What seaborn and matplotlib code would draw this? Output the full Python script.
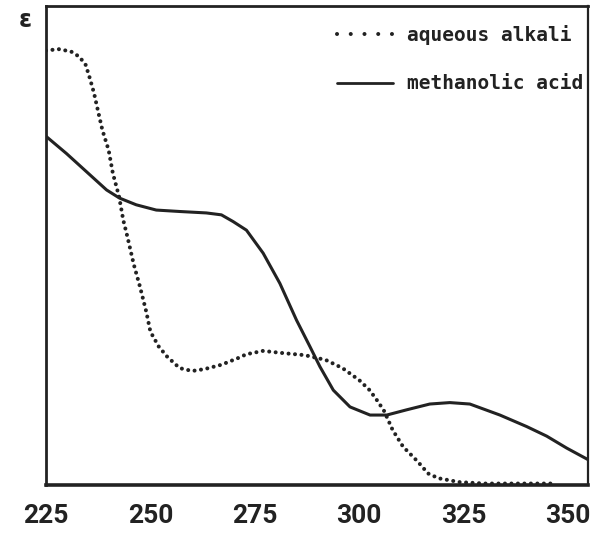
import matplotlib
matplotlib.use("Agg")
import matplotlib.pyplot as plt
from matplotlib.lines import Line2D
import seaborn as sns
import pandas as pd

# ---- data ----
wl_alkali = [225, 228, 231, 233, 234.5, 235.5, 236.5, 237.5, 238.5, 240, 241, 242.5,
             243.5, 244.5, 246, 247.5, 249, 250, 252, 254, 257, 260, 263, 267, 271,
             273, 277, 281, 287, 292, 296, 300, 302.5, 304.5, 306, 308, 310.5, 314,
             316.5, 319, 324, 330, 338, 346]
abs_alkali = [0.907, 0.910, 0.905, 0.894, 0.877, 0.849, 0.818, 0.779, 0.741, 0.699,
              0.651, 0.602, 0.553, 0.518, 0.461, 0.414, 0.362, 0.320, 0.289, 0.268,
              0.244, 0.238, 0.242, 0.251, 0.265, 0.273, 0.280, 0.276, 0.271, 0.261,
              0.244, 0.219, 0.198, 0.174, 0.154, 0.115, 0.080, 0.049, 0.024, 0.014,
              0.006, 0.003, 0.003, 0.003]

wl_acid = [225, 229.9, 234.7, 239.5, 242.6, 246.6, 251.4, 257, 263.4, 267, 269.8, 273,
           277, 281, 285, 288.2, 290.6, 293.8, 297.8, 302.6, 306.6, 311.4, 316.9,
           321.7, 326.5, 333.7, 340.1, 344.9, 349.7, 355]
abs_acid = [0.728, 0.692, 0.654, 0.616, 0.599, 0.585, 0.574, 0.571, 0.568, 0.564,
            0.550, 0.532, 0.484, 0.421, 0.344, 0.289, 0.247, 0.198, 0.163, 0.146,
            0.146, 0.157, 0.169, 0.172, 0.169, 0.146, 0.122, 0.102, 0.077, 0.052]

series_labels = ["aqueous alkali", "methanolic acid"]
x_ticks = [225, 250, 275, 300, 325, 350]
x_ticklabels = ["225", "250", "275", "300", "325", "350"]

INK = "#222222"
sns.set_style("white")
plt.rcParams['font.family'] = ['DejaVu Sans']

fig = plt.figure(figsize=(5.93, 5.33), dpi=100)
ax = fig.add_axes([0.0776, 0.0901, 0.9140, 0.8986])

df_alk = pd.DataFrame({"wl": wl_alkali, "A": abs_alkali})
df_acid = pd.DataFrame({"wl": wl_acid, "A": abs_acid})

sns.lineplot(data=df_alk, x="wl", y="A", ax=ax, color=INK, linewidth=2.9,
             linestyle=(0, (0.01, 1.6)), dash_capstyle="round", sort=False)
sns.lineplot(data=df_acid, x="wl", y="A", ax=ax, color=INK, linewidth=2.2,
             sort=False)

ax.set_xlim(225, 354.8)
ax.set_ylim(0, 1)
ax.set_xlabel("")
ax.set_ylabel("")
ax.set_yticks([])
ax.set_xticks(x_ticks)
ax.set_xticklabels(x_ticklabels, fontsize=19, fontweight="bold",
                   family=["Roboto", "DejaVu Sans"], color=INK)
ax.tick_params(axis="x", direction="in", length=6, width=1.6, pad=14, color=INK)
ax.xaxis.get_major_ticks()[0].tick1line.set_visible(False)

for side, w in [("left", 2.0), ("bottom", 2.6), ("top", 2.0), ("right", 1.6)]:
    ax.spines[side].set_visible(True)
    ax.spines[side].set_linewidth(w)
    ax.spines[side].set_color(INK)

handles = [
    Line2D([], [], color=INK, linewidth=2.9, linestyle=(0, (0.01, 3.4)),
           dash_capstyle="round"),
    Line2D([], [], color=INK, linewidth=2.0),
]
leg = ax.legend(handles, series_labels, loc="upper left",
                bbox_to_anchor=(0.536, 0.960), frameon=False,
                prop={"family": "DejaVu Sans Mono", "weight": "bold", "size": 14},
                handlelength=2.9, handletextpad=0.7, labelspacing=1.5, borderpad=0,
                borderaxespad=0)
for t in leg.get_texts():
    t.set_color(INK)

fig.text(0.042, 0.962, "ε", fontsize=17, fontweight="bold", color=INK,
         ha="center", va="center")

fig.savefig("out.png", dpi=100, facecolor="white")
